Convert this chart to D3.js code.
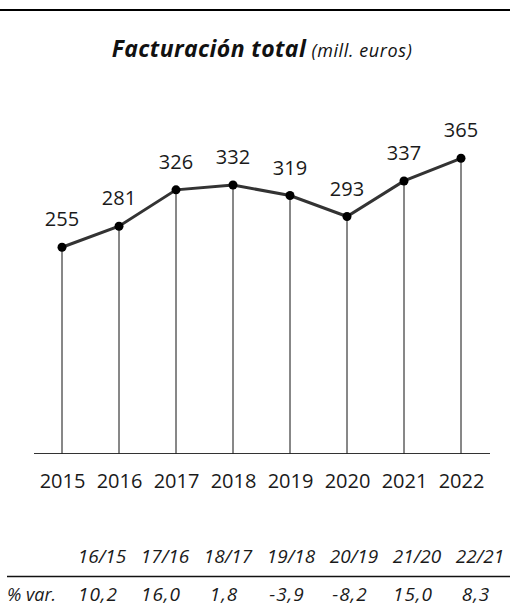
<!DOCTYPE html>
<html>
<head>
<meta charset="utf-8">
<script src="https://cdn.jsdelivr.net/npm/d3@7"></script>
<style>
  body { margin: 0; background: #fff; }
  svg { display: block; font-family: "Open Sans", sans-serif; }
  .axis text { font-size: 20px; fill: #1a1a1a; font-family: "Open Sans", sans-serif; }
  .axis .domain { display: none; }
</style>
</head>
<body>
<svg id="chart" width="510" height="607"></svg>
<script>
// datos
var years = ["2015", "2016", "2017", "2018", "2019", "2020", "2021", "2022"];
var values = [255, 281, 326, 332, 319, 293, 337, 365];
var varLabels = ["16/15", "17/16", "18/17", "19/18", "20/19", "21/20", "22/21"];
var varValues = ["10,2", "16,0", "1,8", "-3,9", "-8,2", "15,0", "8,3"];

var svg = d3.select("#chart");

var x = d3.scalePoint()
	.domain(years)
	.range([62, 461]);

var y = d3.scaleLinear()
	.domain([0, 365])
	.range([453.5, 158.3]);

// raya superior
svg.append("line")
	.attr("x1", 0).attr("x2", 510)
	.attr("y1", 10).attr("y2", 10)
	.attr("stroke", "#000")
	.attr("stroke-width", 2);

// titulo
var title = svg.append("text")
	.attr("x", 262)
	.attr("y", 57)
	.attr("text-anchor", "middle")
	.attr("fill", "#111");
title.append("tspan")
	.attr("font-size", 23)
	.attr("font-weight", "bold")
	.attr("font-style", "italic")
	.attr("letter-spacing", 0.4)
	.text("Facturación total");
title.append("tspan")
	.attr("font-size", 18)
	.attr("font-style", "italic")
	.attr("letter-spacing", 0.6)
	.text(" (mill. euros)");

// linea base
svg.append("line")
	.attr("x1", 34).attr("x2", 490)
	.attr("y1", y(0)).attr("y2", y(0))
	.attr("stroke", "#333")
	.attr("stroke-width", 1);

// verticales
svg.append("g").selectAll("line")
	.data(values)
	.enter()
	.append("line")
	.attr("x1", function(d, i) { return x(years[i]); })
	.attr("x2", function(d, i) { return x(years[i]); })
	.attr("y1", function(d) { return y(d); })
	.attr("y2", y(0))
	.attr("stroke", "#111")
	.attr("stroke-width", 1);

var line = d3.line()
	.x(function(d, i) { return x(years[i]); })
	.y(function(d) { return y(d); });

svg.append("path")
	.datum(values)
	.attr("d", line)
	.attr("fill", "none")
	.attr("stroke", "#333")
	.attr("stroke-width", 3);

svg.append("g").selectAll("circle")
	.data(values)
	.enter()
	.append("circle")
	.attr("cx", function(d, i) { return x(years[i]); })
	.attr("cy", function(d) { return y(d); })
	.attr("r", 4.5)
	.attr("fill", "#000");

svg.append("g").selectAll("text")
	.data(values)
	.enter()
	.append("text")
	.attr("x", function(d, i) { return x(years[i]); })
	.attr("y", function(d) { return y(d) - 21; })
	.attr("text-anchor", "middle")
	.attr("font-size", 20)
	.attr("fill", "#1a1a1a")
	.text(function(d) { return d; });

// eje de años
svg.append("g")
	.attr("class", "axis")
	.attr("transform", "translate(0," + y(0) + ")")
	.call(d3.axisBottom(x).tickSize(0).tickPadding(20));

// tabla de variacion
var t = d3.scalePoint()
	.domain(varLabels)
	.range([102, 480]);

svg.append("g").selectAll("text")
	.data(varLabels)
	.enter()
	.append("text")
	.attr("x", function(d) { return t(d); })
	.attr("y", 563)
	.attr("text-anchor", "middle")
	.attr("font-size", 19)
	.attr("font-style", "italic")
	.attr("fill", "#1a1a1a")
	.text(function(d) { return d; });

svg.append("line")
	.attr("x1", 7).attr("x2", 510)
	.attr("y1", 576.5).attr("y2", 576.5)
	.attr("stroke", "#111")
	.attr("stroke-width", 1.5);

svg.append("text")
	.attr("x", 7)
	.attr("y", 601)
	.attr("font-size", 18)
	.attr("font-style", "italic")
	.attr("fill", "#1a1a1a")
	.text("% var.");

svg.append("g").selectAll("text")
	.data(varValues)
	.enter()
	.append("text")
	.attr("x", function(d, i) { return t(varLabels[i]) - 4; })
	.attr("y", 601)
	.attr("text-anchor", "middle")
	.attr("font-size", 19)
	.attr("font-style", "italic")
	.attr("letter-spacing", 1)
	.attr("fill", "#1a1a1a")
	.text(function(d) { return d; });
</script>
</body>
</html>
